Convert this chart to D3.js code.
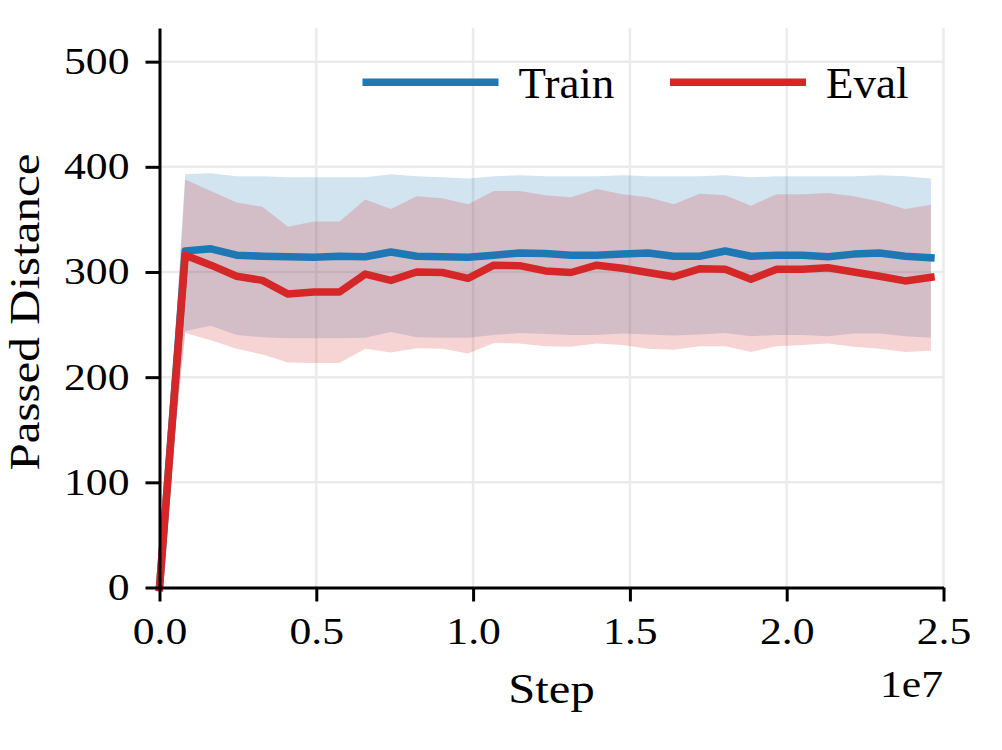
<!DOCTYPE html>
<html>
<head>
    <title>Passed Distance over Steps</title>
    <style>
        body { margin: 0; background: #fff; }
        svg text { font-family: "Liberation Serif", "Times New Roman", serif; fill: #000; }
    </style>
    <script src="https://d3js.org/d3.v7.min.js"></script>
</head>
<body>
    <div id="chart"></div>

    <script>
        // evaluation step index 0..30, each one 820000 env steps apart
        var stepSize = 820000;
        var stepIndex = d3.range(31);

        var trainMean = [0, 320, 322, 316, 315, 314.5, 314, 315, 314.5, 319, 315, 314.5, 314, 316, 318, 317.5,
                         316, 316, 317, 318, 315, 315, 320, 315, 316, 316, 314.5, 317, 318, 315, 313.5];
        var trainUpper = [0, 393, 394, 391, 391, 390, 390, 390, 390, 393, 391, 390, 389, 391, 392, 391,
                          391, 391, 392, 391, 391, 391, 392, 390, 391, 391, 391, 391, 392, 391, 389];
        var trainLower = [0, 244, 249, 240, 238, 237, 237, 237, 237.5, 243, 238, 237.5, 237.5, 240, 242, 241,
                          240, 240, 241.5, 240.5, 239.5, 240.5, 242, 239, 240, 240, 239, 241.5, 241.5, 239, 237.5];

        var evalMean = [0, 316, 306.5, 296, 292, 279, 281, 281, 298, 292, 300, 299.5, 294, 306.5, 306, 301,
                        299.5, 306.5, 303.5, 299.5, 295.5, 303, 302.5, 293, 302.5, 302.5, 304, 300, 296, 291.5, 295];
        var evalUpper = [0, 388, 377, 366, 362, 343, 348, 348, 369, 360, 372, 370, 364.5, 377, 377, 373,
                         371, 379, 374, 371, 364.5, 374.5, 373, 363, 374, 374, 375, 372, 367, 360, 364];
        var evalLower = [0, 242, 235, 227, 221.5, 214, 213.5, 213.5, 227, 223.5, 227.5, 227, 222.5, 232.5, 232, 229.5,
                         229, 232, 230.5, 227, 226, 229.5, 229.5, 224, 229.5, 230.5, 232, 229, 227, 224, 225];

        var xTicks = [0, 0.5e7, 1.0e7, 1.5e7, 2.0e7, 2.5e7];
        var yTicks = [0, 100, 200, 300, 400, 500];
        var seriesNames = ["Train", "Eval"];
        var seriesColors = ["#1f77b4", "#d62728"];

        var width = 1002, height = 750;

        var svg = d3.select("#chart").append("svg")
            .attr("width", width)
            .attr("height", height);

        var x = d3.scaleLinear().domain([0, 2.5e7]).range([159.5, 943.5]);
        var y = d3.scaleLinear().domain([0, 532]).range([587.5, 28]);

        // stretch text a bit wider, the reference glyphs are wider than Liberation Serif
        function stretch(sel, k) {
            sel.each(function() {
                var w = this.getComputedTextLength();
                d3.select(this).attr("textLength", w * k).attr("lengthAdjust", "spacingAndGlyphs");
            });
        }

        // grid
        svg.append("g")
            .selectAll("line")
            .data(yTicks.slice(1))
            .enter().append("line")
            .attr("x1", x(0)).attr("x2", x(2.5e7))
            .attr("y1", function(d) { return y(d); })
            .attr("y2", function(d) { return y(d); })
            .attr("stroke", "#ebebeb")
            .attr("stroke-width", 2.5);

        svg.append("g")
            .selectAll("line")
            .data(xTicks.slice(1))
            .enter().append("line")
            .attr("x1", function(d) { return x(d); })
            .attr("x2", function(d) { return x(d); })
            .attr("y1", y(0)).attr("y2", y(532))
            .attr("stroke", "#ebebeb")
            .attr("stroke-width", 2.5);

        var series = [
            { mean: trainMean, upper: trainUpper, lower: trainLower },
            { mean: evalMean, upper: evalUpper, lower: evalLower }
        ];

        var area = function(s) {
            return d3.area()
                .x(function(i) { return x(i * stepSize); })
                .y0(function(i) { return y(s.lower[i]); })
                .y1(function(i) { return y(s.upper[i]); })(stepIndex);
        };
        var line = function(s) {
            return d3.line()
                .x(function(i) { return x(i * stepSize); })
                .y(function(i) { return y(s.mean[i]); })(stepIndex);
        };

        series.forEach(function(s, j) {
            svg.append("path")
                .attr("d", area(s))
                .attr("fill", seriesColors[j])
                .attr("fill-opacity", 0.2);
        });

        series.forEach(function(s, j) {
            svg.append("path")
                .attr("d", line(s))
                .attr("fill", "none")
                .attr("stroke", seriesColors[j])
                .attr("stroke-width", 7.5)
                .attr("stroke-linejoin", "round")
                .attr("stroke-linecap", "square");
        });

        // axes
        var xAxis = d3.axisBottom(x)
            .tickValues(xTicks)
            .tickFormat(function(d) { return (d / 1e7).toFixed(1); })
            .tickSize(14).tickSizeOuter(0).tickPadding(16);

        var yAxis = d3.axisLeft(y)
            .tickValues(yTicks)
            .tickFormat(d3.format("d"))
            .tickSize(14).tickSizeOuter(0).tickPadding(16);

        var gx = svg.append("g")
            .attr("transform", "translate(0," + y(0) + ")")
            .call(xAxis);
        var gy = svg.append("g")
            .attr("transform", "translate(" + x(0) + ",0)")
            .call(yAxis);

        [gx, gy].forEach(function(g) {
            g.select(".domain").attr("stroke", "#000").attr("stroke-width", 3);
            g.selectAll(".tick line").attr("stroke", "#000").attr("stroke-width", 3);
            g.selectAll(".tick text")
                .attr("font-family", "Liberation Serif")
                .attr("font-size", 37)
                .attr("fill", "#000")
                .call(stretch, 1.18);
        });

        // offset text
        svg.append("text")
            .attr("x", 943)
            .attr("y", 697)
            .attr("text-anchor", "end")
            .attr("font-size", 37)
            .text("1e7")
            .call(stretch, 1.18);

        svg.append("text")
            .attr("x", 551.5)
            .attr("y", 703)
            .attr("text-anchor", "middle")
            .attr("font-size", 43)
            .text("Step")
            .call(stretch, 1.13);

        svg.append("text")
            .attr("transform", "translate(39,312) rotate(-90)")
            .attr("text-anchor", "middle")
            .attr("font-size", 43)
            .text("Passed Distance")
            .call(stretch, 1.14);

        // legend
        var legendX = [362.5, 670];
        var legend = svg.append("g");
        seriesNames.forEach(function(name, j) {
            legend.append("line")
                .attr("x1", legendX[j]).attr("x2", legendX[j] + 136)
                .attr("y1", 82.3).attr("y2", 82.3)
                .attr("stroke", seriesColors[j])
                .attr("stroke-width", 7.5);
            legend.append("text")
                .attr("x", legendX[j] + 156)
                .attr("y", 98.3)
                .attr("font-size", 45)
                .text(name);
        });
    </script>
</body>
</html>
